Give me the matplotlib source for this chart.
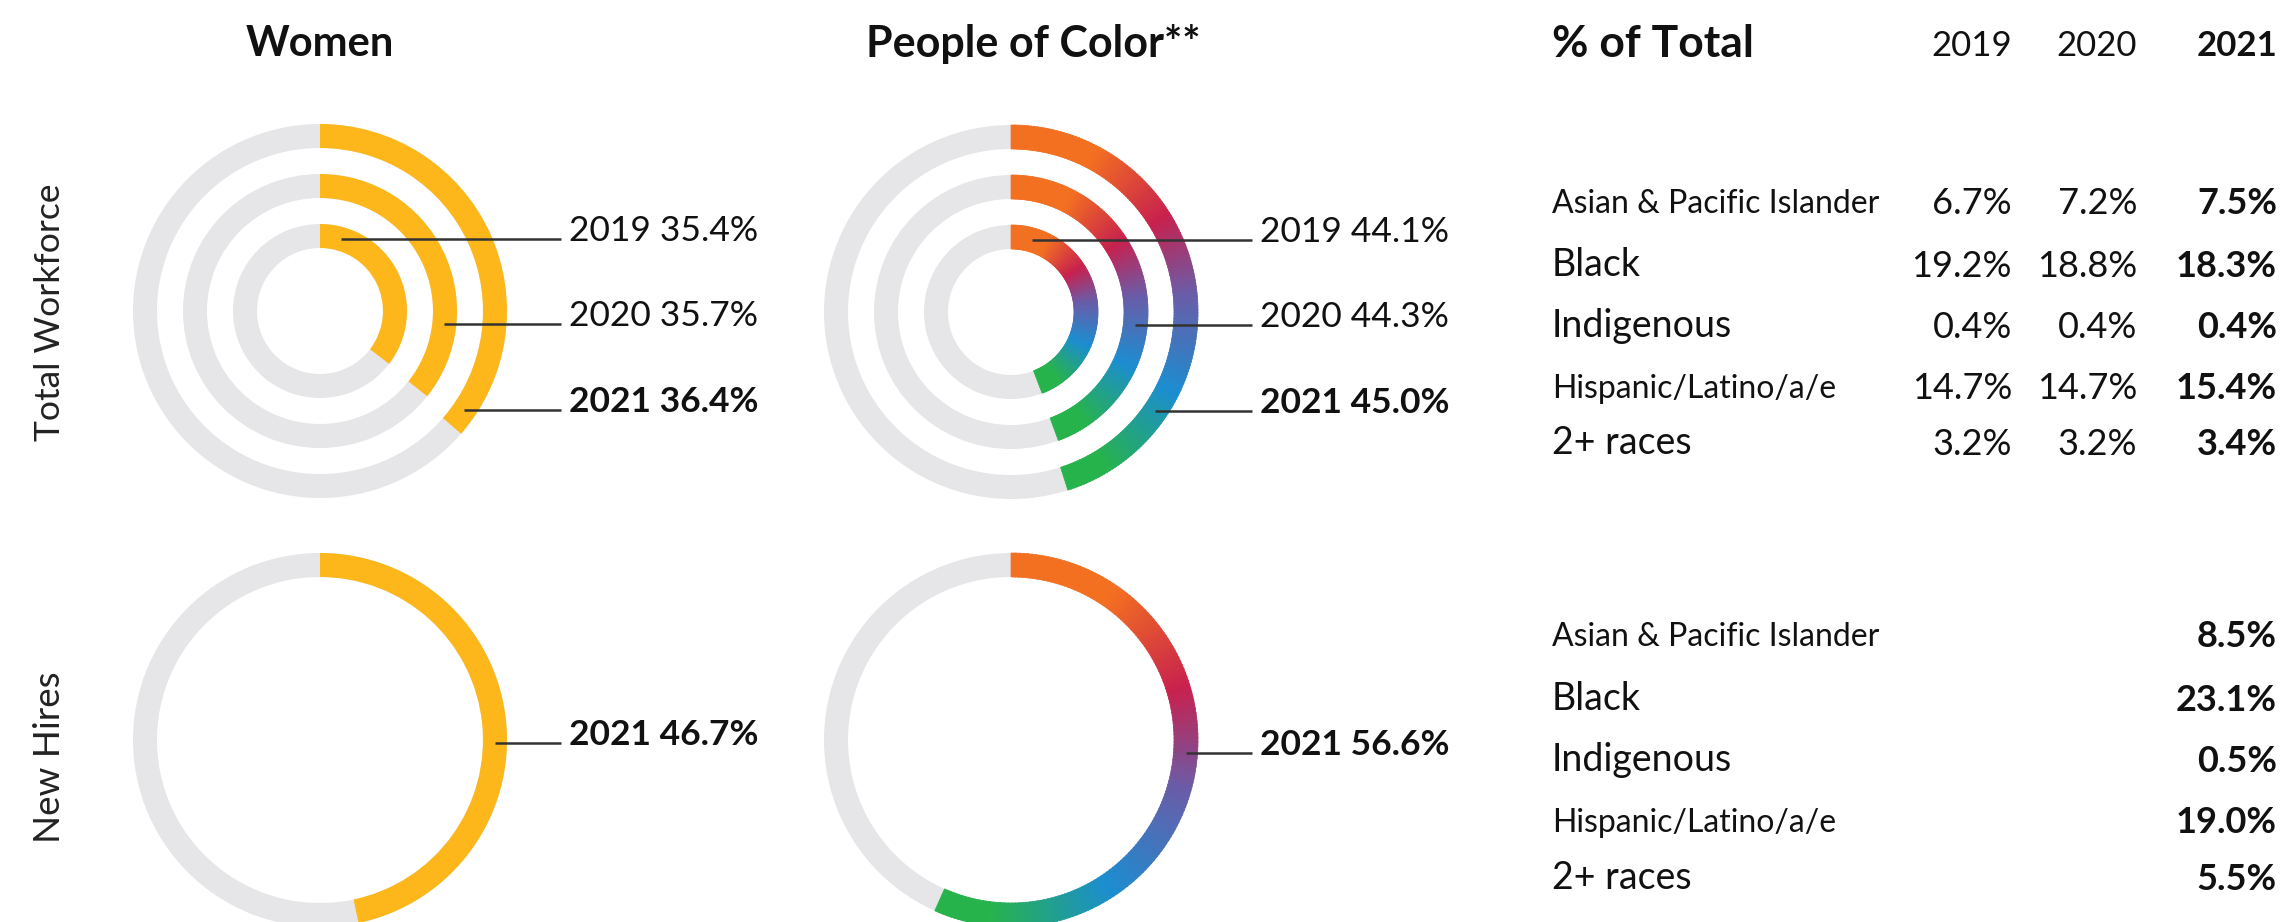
import numpy as np
import matplotlib
matplotlib.use("Agg")
import matplotlib.pyplot as plt
from matplotlib.patches import Wedge
from matplotlib.colors import LinearSegmentedColormap

plt.rcParams['font.family'] = ['Lato', 'DejaVu Sans']

# data
years = ['2019', '2020', '2021']
women_total = [35.4, 35.7, 36.4]
poc_total = [44.1, 44.3, 45.0]
women_hires = 46.7
poc_hires = 56.6

groups = ['Asian & Pacific Islander', 'Black', 'Indigenous',
          'Hispanic/Latino/a/e', '2+ races']
total_2019 = [6.7, 19.2, 0.4, 14.7, 3.2]
total_2020 = [7.2, 18.8, 0.4, 14.7, 3.2]
total_2021 = [7.5, 18.3, 0.4, 15.4, 3.4]
hires_2021 = [8.5, 23.1, 0.5, 19.0, 5.5]

# styles
YELLOW = '#FDB71A'
GRAY = '#E6E6E9'
INK = '#111111'
poc_cmap = LinearSegmentedColormap.from_list('poc', [
    (0.0, '#F37021'), (0.17, '#F37021'), (0.36, '#C8214E'),
    (0.52, '#6A5CA8'), (0.72, '#1C8DD0'), (0.92, '#27B34B'), (1.0, '#27B34B')])

W, H = 2280, 922
fig = plt.figure(figsize=(W / 100, H / 100), dpi=100)
ax = fig.add_axes([0, 0, 1, 1])
ax.set_xlim(0, W)
ax.set_ylim(H, 0)
ax.set_aspect('equal')
ax.axis('off')

RW = 24          # ring width
R3 = [87, 137, 187]  # outer radius of the inner, middle, outer ring


def ring(cx, cy, r, pct, color=None, cmap=None):
    ax.add_patch(Wedge((cx, cy), r, 0, 360, width=RW, facecolor=GRAY, edgecolor='none', zorder=1))
    span = pct / 100 * 360
    if cmap is None:
        ax.add_patch(Wedge((cx, cy), r, -90, -90 + span, width=RW,
                           facecolor=color, edgecolor='none', zorder=2))
    else:
        n = 160
        edges = np.linspace(0, span, n + 1)
        for i in range(n):
            c = cmap((i + 0.5) / n)
            ax.add_patch(Wedge((cx, cy), r, -90 + edges[i], -90 + edges[i + 1] + 0.3,
                               width=RW, facecolor=c, edgecolor=c, lw=0.5, zorder=2))


def callout(cx, cy, r, dy, text, bold):
    rmid = r - RW / 2
    x0 = cx + np.sqrt(max(rmid ** 2 - dy ** 2, 0))
    ax.plot([x0, cx + 241], [cy + dy, cy + dy], color='#333333', lw=1.8,
            solid_capstyle='butt', zorder=3)
    ax.text(cx + 249, cy + dy + 2, text, fontsize=25.5,
            fontweight='bold' if bold else 'normal', color=INK, va='baseline', ha='left')


# titles
ax.text(320, 44, 'Women', fontsize=30, fontweight='bold', ha='center', va='center', color=INK)
ax.text(1033, 44, 'People of Color**', fontsize=31, fontweight='bold', ha='center', va='center', color=INK)
ax.text(50, 312, 'Total Workforce', fontsize=25.5, rotation=90,
        ha='center', va='center', color='#222222')
ax.text(50, 757, 'New Hires', fontsize=26.5, rotation=90,
        ha='center', va='center', color='#222222')

# total workforce donuts
dys = [-72, 13, 99]
for cx, cy, vals, kw in [(320, 311, women_total, dict(color=YELLOW)),
                         (1011, 312, poc_total, dict(cmap=poc_cmap))]:
    for r, v in zip(R3, vals):
        ring(cx, cy, r, v, **kw)
    for r, v, y, dy in zip(R3, vals, years, dys):
        callout(cx, cy, r, dy, f'{y} {v:.1f}%', y == '2021')

# new hires donuts
ring(320, 740, 187, women_hires, color=YELLOW)
callout(320, 740, 187, 3, f'2021 {women_hires:.1f}%', True)
ring(1011, 740, 187, poc_hires, cmap=poc_cmap)
callout(1011, 740, 187, 13, f'2021 {poc_hires:.1f}%', True)

# table
LX = 1552
COLS = [2012, 2137, 2277]
ax.text(LX, 44, '% of Total', fontsize=32, fontweight='bold', ha='left', va='center', color=INK)
for x, y in zip(COLS, years):
    ax.text(x, 56, y, fontsize=25, fontweight='bold' if y == '2021' else 'normal',
            ha='right', va='baseline', color=INK)

small = {'Asian & Pacific Islander', 'Hispanic/Latino/a/e'}
top_rows = [202, 265, 326, 387, 443]
for g, a, b, c, y in zip(groups, total_2019, total_2020, total_2021, top_rows):
    ax.text(LX, y + 11, g, fontsize=23 if g in small else 27,
            ha='left', va='baseline', color=INK)
    for x, v, bold in zip(COLS, [a, b, c], [False, False, True]):
        ax.text(x, y + 12, f'{v:.1f}%', fontsize=26, fontweight='bold' if bold else 'normal',
                ha='right', va='baseline', color=INK)

bot_rows = [635, 699, 760, 821, 878]
for g, v, y in zip(groups, hires_2021, bot_rows):
    ax.text(LX, y + 11, g, fontsize=23 if g in small else 27,
            ha='left', va='baseline', color=INK)
    ax.text(COLS[2], y + 12, f'{v:.1f}%', fontsize=26, fontweight='bold',
            ha='right', va='baseline', color=INK)

fig.savefig('out.png', dpi=100, facecolor='white')
